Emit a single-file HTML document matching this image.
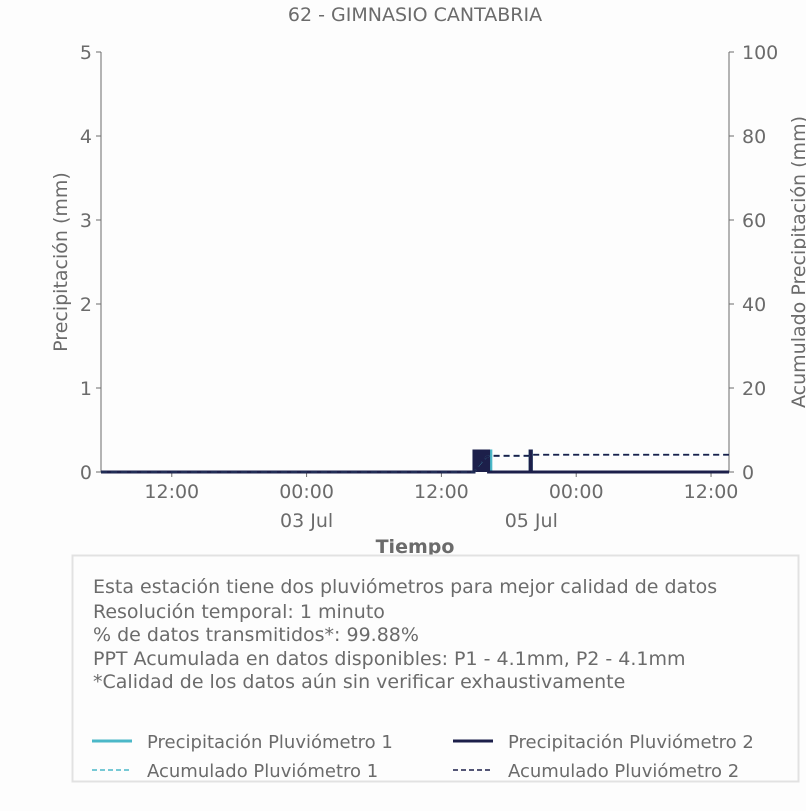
<!DOCTYPE html>
<html><head><meta charset="utf-8"><style>
body{margin:0;background:#fdfdfd;}
svg text{font-family:"DejaVu Sans","Liberation Sans",sans-serif;fill:#6b6b6b;}
</style></head><body>
<svg id="chart" width="806" height="806" viewBox="0 0 806 806" xmlns="http://www.w3.org/2000/svg">
<rect width="806" height="806" fill="#fdfdfd"/>
<text x="415" y="21" font-size="19" text-anchor="middle">62 - GIMNASIO CANTABRIA</text>
<g id="axes"></g>
<g id="marks"></g>
<text x="415" y="553" font-size="19" font-weight="bold" text-anchor="middle">Tiempo</text>
<text transform="translate(67,262) rotate(-90)" font-size="19" text-anchor="middle">Precipitación (mm)</text>
<text transform="translate(805,262) rotate(-90)" font-size="19" text-anchor="middle">Acumulado Precipitación (mm)</text>
<g>
<rect x="72.5" y="555.5" width="726" height="226" fill="#fdfdfd" stroke="#e2e2e2" stroke-width="2"/>
<text x="93" y="593" font-size="19">Esta estación tiene dos pluviómetros para mejor calidad de datos</text>
<text x="93" y="618" font-size="19">Resolución temporal: 1 minuto</text>
<text x="93" y="641" font-size="19">% de datos transmitidos*: 99.88%</text>
<text x="93" y="665" font-size="19">PPT Acumulada en datos disponibles: P1 - 4.1mm, P2 - 4.1mm</text>
<text x="93" y="688" font-size="19">*Calidad de los datos aún sin verificar exhaustivamente</text>
</g>
<g>
<line x1="92" y1="741" x2="132" y2="741" stroke="#4bb8c8" stroke-width="3"/>
<text x="147" y="748" font-size="18">Precipitación Pluviómetro 1</text>
<line x1="453" y1="741" x2="493" y2="741" stroke="#1c1f4a" stroke-width="3"/>
<text x="508" y="748" font-size="18">Precipitación Pluviómetro 2</text>
<line x1="92" y1="770" x2="132" y2="770" stroke="#4bb8c8" stroke-width="1.5" stroke-dasharray="5,3"/>
<text x="147" y="777" font-size="18">Acumulado Pluviómetro 1</text>
<line x1="453" y1="770" x2="493" y2="770" stroke="#1c1f4a" stroke-width="1.5" stroke-dasharray="5,3"/>
<text x="508" y="777" font-size="18">Acumulado Pluviómetro 2</text>
</g>
</svg>
<script>
// hours since 02 Jul 00:00
const xDomain = [5.7, 61.6];
const yTicks = [0,1,2,3,4,5];
const y2Ticks = [0,20,40,60,80,100];
const xTickHours = [12,24,36,48,60];
const xTickLabels = ["12:00","00:00","12:00","00:00","12:00"];
const dateLabelHours = [24,44];
const dateLabels = ["03 Jul","05 Jul"];
const p1Times = [38.9,39.0,39.1,39.2,39.3,39.4,39.5,39.6,39.7,39.8,39.9,40.0,40.1,40.2,40.3,43.9];
const p1Values = [0.25,0.25,0.25,0.25,0.25,0.25,0.25,0.25,0.25,0.25,0.25,0.25,0.25,0.25,0.25,0.25];
const p2Times = [38.9,39.0,39.1,39.2,39.3,39.4,39.5,39.6,39.7,39.8,39.9,40.0,40.1,43.9];
const p2Values = [0.25,0.25,0.25,0.25,0.25,0.25,0.25,0.25,0.25,0.25,0.25,0.25,0.25,0.25];
const accTimes = [5.7,38.9,39.3,39.7,40.0,40.3,43.8,43.9,61.6];
const acc1 = [0,0,1.5,2.8,3.6,3.85,3.85,4.1,4.1];
const acc2 = [0,0,1.6,2.9,3.6,3.85,3.85,4.1,4.1];

const L=101,R=729,T=52,B=472;
const x=h=>L+(h-xDomain[0])/(xDomain[1]-xDomain[0])*(R-L);
const y=v=>B-v/5*(B-T);
const y2=v=>B-v/100*(B-T);
const NS="http://www.w3.org/2000/svg";
function mk(parent,tag,attrs,txt){const e=document.createElementNS(NS,tag);for(const k in attrs)e.setAttribute(k,attrs[k]);if(txt!==undefined)e.textContent=txt;document.getElementById(parent).appendChild(e);return e;}
let e;
e=mk("axes","line",{x1:L,y1:T,x2:L,y2:B,stroke:"#6b6b6b"});


e=mk("axes","line",{x1:R,y1:T,x2:R,y2:B,stroke:"#6b6b6b"});


yTicks.forEach(v=>{
  mk("axes","line",{x1:L-5,y1:y(v),x2:L,y2:y(v),stroke:"#6b6b6b"});
  e=mk("axes","text",{x:L-9,y:y(v)+7,"font-size":19,"text-anchor":"end"},String(v));
  
  
});
y2Ticks.forEach(v=>{
  mk("axes","line",{x1:R,y1:y2(v),x2:R+5,y2:y2(v),stroke:"#6b6b6b"});
  e=mk("axes","text",{x:R+13,y:y2(v)+7,"font-size":19},String(v));
  
  
});
xTickHours.forEach((h,i)=>{
  mk("axes","line",{x1:x(h),y1:B,x2:x(h),y2:B+5,stroke:"#6b6b6b"});
  e=mk("axes","text",{x:x(h),y:B+26,"font-size":19,"text-anchor":"middle"},xTickLabels[i]);
  
  
});
dateLabelHours.forEach((h,i)=>{
  e=mk("axes","text",{x:x(h),y:B+55,"font-size":19,"text-anchor":"middle"},dateLabels[i]);
  
  
});
function bars(times,vals,color,name){
  let d=`M${x(xDomain[0])},${y(0)}`;
  times.forEach((t,i)=>{d+=` L${x(t)},${y(0)} L${x(t)},${y(vals[i])} L${x(t+0.1)},${y(vals[i])} L${x(t+0.1)},${y(0)}`;});
  d+=` L${x(xDomain[1])},${y(0)}`;
  e=mk("marks","path",{d:d,fill:"none",stroke:color,"stroke-width":3});
  
  
}
function accLine(vals,color,name){
  const pts=accTimes.map((t,i)=>`${x(t)},${y2(vals[i])}`).join(" ");
  e=mk("marks","polyline",{points:pts,fill:"none",stroke:color,"stroke-width":1.8,"stroke-dasharray":"6,4"});
  
  
}
bars(p1Times,p1Values,"#4bb8c8","precip-p1");
bars(p2Times,p2Values,"#1c1f4a","precip-p2");
accLine(acc1,"#4bb8c8","cumulative-p1");
accLine(acc2,"#1c1f4a","cumulative-p2");
</script>
</body></html>
